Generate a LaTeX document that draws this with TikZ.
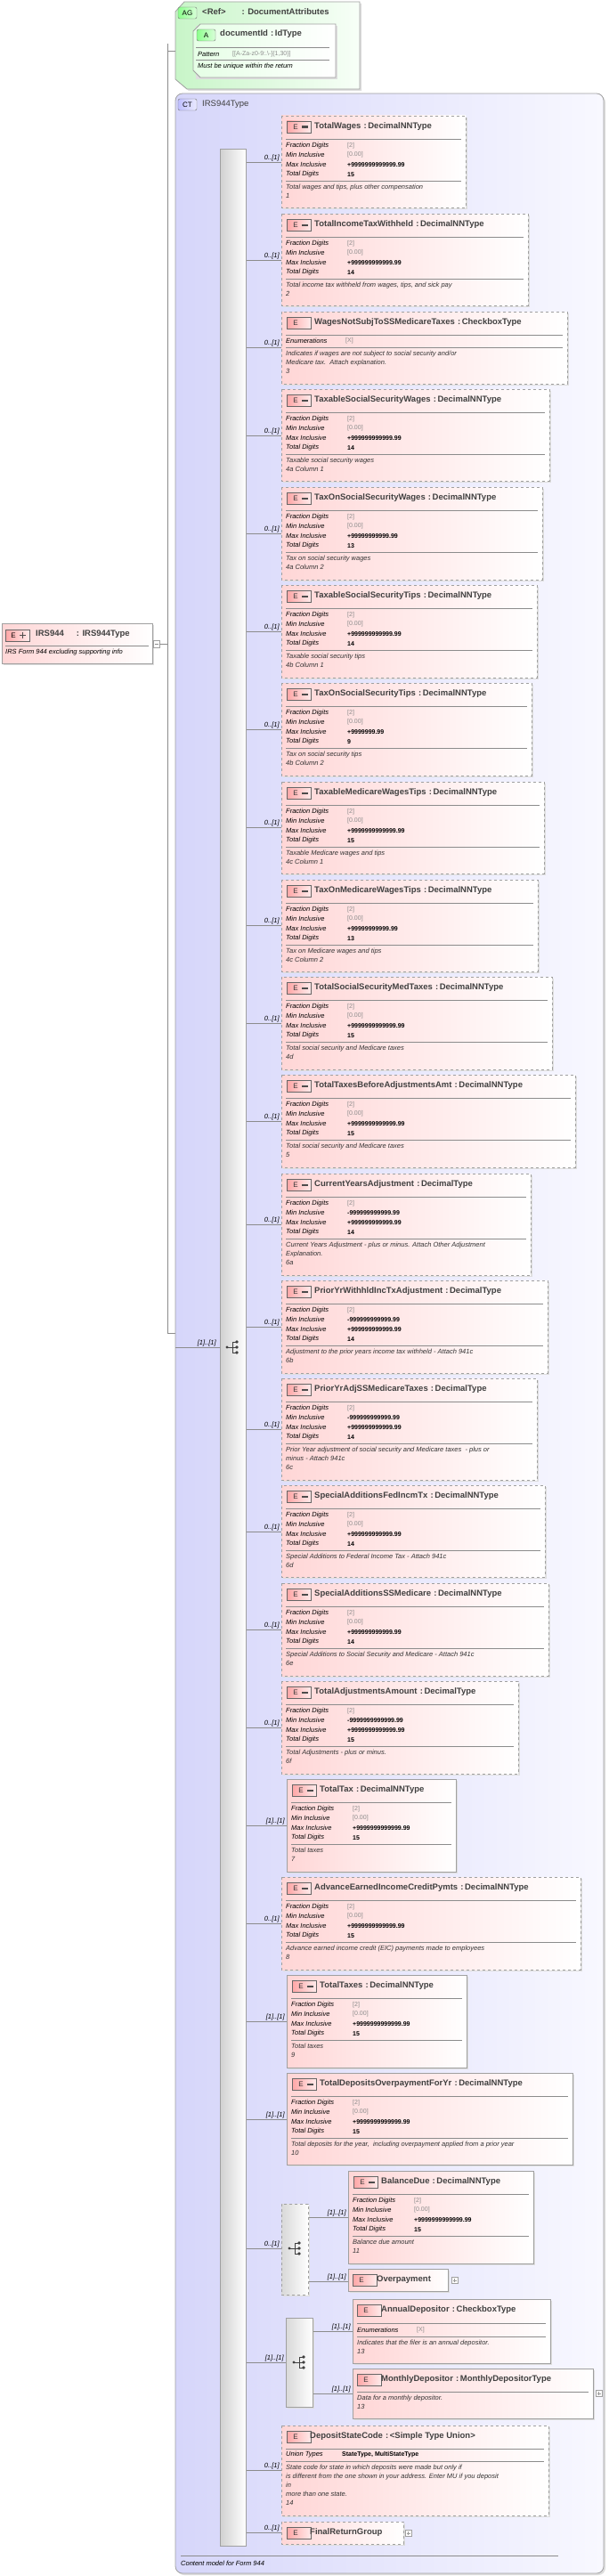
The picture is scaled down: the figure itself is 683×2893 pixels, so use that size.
\documentclass[tikz,border=0pt]{standalone}
\usepackage{fontspec}
\setmainfont{Liberation Sans}
\usetikzlibrary{calc}
\definecolor{pinkL}{RGB}{255,214,214}
\definecolor{ctL}{RGB}{214,214,250}
\definecolor{ctR}{RGB}{248,248,255}
\definecolor{agL}{RGB}{200,245,200}
\definecolor{bord}{RGB}{160,160,160}
\tikzset{
 elfill/.style={left color=pinkL,right color=white,draw=bord,line width=0.8pt},
 shd/.style={fill=black!13},
 ttl/.style={anchor=west,font=\bfseries\fontsize{9.5}{11}\selectfont,text=black!75,inner sep=0},
 pl/.style={anchor=west,font=\itshape\fontsize{7.5}{9}\selectfont,inner sep=0},
 pv/.style={anchor=west,font=\bfseries\fontsize{7}{9}\selectfont,inner sep=0},
 ds/.style={anchor=north west,align=left,font=\itshape\fontsize{7.5}{10}\selectfont,inner sep=0,text=black!80},
 lbl/.style={font=\itshape\fontsize{7.5}{9}\selectfont,inner sep=1pt,anchor=south east},
 sep/.style={draw=black!45,line width=0.6pt},
 conn/.style={draw=black!45,line width=0.7pt},
 iconst/.style={draw=black!60,left color=red!35,right color=red!8,line width=0.7pt},
}
\newcommand\gv[1]{\textcolor{black!45}{\mdseries #1}}
\newcommand\eicon[3]{%
 \draw[iconst] (#1,#2) rectangle ++(27,13);
 \node[font=\fontsize{8}{9}\selectfont,inner sep=0,text=black!80] at (#1+10,#2+7) {E};
 \ifnum#3=1 \fill[black!70] (#1+16.5,#2+5.5) rectangle ++(7,2.5);\fi}
\newcommand\nb[9]{%
 \fill[shd] (#1+2,#2+2) rectangle (#3+2,#4+2);
 \draw[elfill,#5] (#1,#2) rectangle (#3,#4);
 \eicon{#1+6}{#2+6}{1}
 \node[ttl] at (#1+37,#2+12) {#6};
 \draw[sep] (#1+5,#2+26) -- (#3-5,#2+26);
 \node[pl] at (#1+5,#2+34) {Fraction Digits}; \node[pv] at (#1+74,#2+34) {\gv{[2]}};
 \node[pl] at (#1+5,#2+44) {Min Inclusive}; \node[pv] at (#1+74,#2+44) {#7};
 \node[pl] at (#1+5,#2+55) {Max Inclusive}; \node[pv] at (#1+74,#2+55) {#8};
 \node[pl] at (#1+5,#2+66) {Total Digits}; \node[pv] at (#1+74,#2+66) {#9};
 \draw[sep] (#1+5,#2+73) -- (#3-5,#2+73);
 \node[ds] at (#1+5,#2+77) {\dtext};}
\newcommand\dtext{}
\newcommand\cn[4]{% from-node, y, target left x, label
 \coordinate (tmpT) at (#3,#2);
 \draw[conn] (#1 |- tmpT) -- (tmpT) node[lbl,pos=1,xshift=-1pt] {#4};}
\newcommand\seqicon[2]{%
 \fill[black!75] (#1-7,#2) circle (1.6);
 \draw[black!75,line width=0.8pt] (#1-7,#2) -- (#1-1,#2) (#1-1,#2-6) -- (#1-1,#2+6)
   (#1-1,#2-6) -- (#1+4,#2-6) (#1-1,#2) -- (#1+4,#2) (#1-1,#2+6) -- (#1+4,#2+6);
 \foreach \d in {-6,0,6} \fill[black!75] (#1+4,#2+\d) circle (1.8);}
\newcommand\expbox[2]{\draw[bord,fill=white] (#1,#2-3.5) rectangle ++(7,7); \draw[black!40] (#1+1.5,#2) -- ++(4,0) (#1+3.5,#2-2) -- ++(0,4);}
\begin{document}
\begin{tikzpicture}[x=1pt,y=-1pt]
\useasboundingbox (0,0) rectangle (683,2893);
\fill[white] (0,0) rectangle (683,2893);
% ---- AG
\fill[shd] (199,15) -- (209,4) -- (406,4) -- (406,102) -- (212,102) -- (199,91) -- cycle;
\draw[left color=agL,right color=green!3,draw=bord,line width=0.8pt] (197,13) -- (207,2) -- (404,2) -- (404,100) -- (210,100) -- (197,89) -- cycle;
\draw[left color=green!45,right color=green!15,draw=black!55,rounded corners=2pt] (200,8) rectangle (221,21);
\node[font=\fontsize{8}{9}\selectfont,inner sep=0] at (210.5,14.5) {AG};
\node[ttl] (ag) at (227,13) {<Ref>\hspace{18pt}: DocumentAttributes};
\fill[shd] (220,29) rectangle (379,89);
\draw[left color=green!10,right color=white,draw=bord,line width=0.8pt] (217,35) -- (225,27) -- (377,27) -- (377,87) -- (225,87) -- (217,79) -- cycle;
\draw[left color=green!45,right color=green!15,draw=black!55,rounded corners=2pt] (221,33) rectangle (242,46);
\node[font=\fontsize{8}{9}\selectfont,inner sep=0] at (231.5,39.5) {A};
\node[ttl] at (247,38) {documentId\,\,:\,IdType};
\draw[sep] (220,53) -- (370,53);
\node[pl] at (222,61) {Pattern}; \node[pv] at (261,61) {\gv{[[A-Za-z0-9:.\textbackslash-]\{1,30\}]}};
\draw[sep] (220,67) -- (370,67);
\node[pl] at (222,75) {Must be unique within the return};
% ---- root
\fill[shd] (4,702) rectangle (173,747);
\draw[elfill] (2,700) rectangle (171,745);
\draw[iconst] (6,707) rectangle ++(27,13);
\node[font=\fontsize{8}{9}\selectfont,inner sep=0] at (15,713.5) {E};
\draw[black!70,line width=1.3pt] (22,713.5) -- ++(7,0) (25.5,710) -- ++(0,7);
\node[ttl] (root) at (40,712) {IRS944\hspace{14pt}: IRS944Type};
\draw[sep] (6,725) -- (167,725);
\node[pl] at (6,733) {IRS Form 944 excluding supporting info};
\draw[bord,fill=white] (172,719) rectangle (179,727); \draw[black!45] (173.5,723) -- (177.5,723);
\draw[conn] (179,723) -- (188,723);
\draw[conn] (188,49) -- (188,1497);
\draw[conn] (188,57) -- (197,57);
\draw[conn] (188,1497) -- (197,1497);
% ---- CT
\fill[shd,rounded corners=8pt] (199,107) rectangle (680,2892);
\draw[left color=ctL,right color=ctR,draw=bord,line width=0.8pt,rounded corners=8pt] (197,105) rectangle (678,2890);
\draw[left color=blue!25,right color=blue!8,draw=black!55,rounded corners=2pt] (200,111) rectangle (221,124);
\node[font=\fontsize{8}{9}\selectfont,inner sep=0] at (210.5,117.5) {CT};
\node[ttl,font=\fontsize{9.5}{11}\selectfont] (ct) at (227,117) {IRS944Type};
\draw[sep] (203,2870) -- (627,2870);
\node[pl] at (203,2879) {Content model for Form 944};
% spine
\node[draw=bord,left color=black!18,right color=white,minimum width=29pt,minimum height=2692pt,inner sep=0,anchor=north west,line width=0.8pt] (spine) at (247,167) {};
\coordinate (ctl) at (197,1513);
\draw[conn] (ctl) -- (spine.west |- ctl) node[lbl,pos=1,xshift=-3pt] {[1]..[1]};
\seqicon{262}{1513}
% ---- elements
\renewcommand\dtext{Total wages and tips, plus other compensation\\1}
\nb{316}{130}{523}{233}{dashed}{TotalWages\,\,:\,DecimalNNType}{\gv{[0.00]}}{+9999999999999.99}{15}
\cn{spine.east}{182}{316}{0..[1]}
\renewcommand\dtext{Total income tax withheld from wages, tips, and sick pay\\2}
\nb{316}{240}{593}{343}{dashed}{TotalIncomeTaxWithheld\,\,:\,DecimalNNType}{\gv{[0.00]}}{+999999999999.99}{14}
\cn{spine.east}{292}{316}{0..[1]}
% 3 enum
\fill[shd] (318,352) rectangle (639,433);
\draw[elfill,dashed] (316,350) rectangle (637,431);
\eicon{322}{356}{0}
\node[ttl] at (353,362) {WagesNotSubjToSSMedicareTaxes\,\,:\,CheckboxType};
\draw[sep] (321,376) -- (632,376);
\node[pl] at (321,383) {Enumerations}; \node[pv] at (388,383) {\gv{[X]}};
\draw[sep] (321,390) -- (632,390);
\node[ds] at (321,394) {Indicates if wages are not subject to social security and/or\\Medicare tax.\ \ Attach explanation.\\3};
\cn{spine.east}{390}{316}{0..[1]}
\renewcommand\dtext{Taxable social security wages\\4a Column 1}
\nb{316}{437}{617}{540}{dashed}{TaxableSocialSecurityWages\,\,:\,DecimalNNType}{\gv{[0.00]}}{+999999999999.99}{14}
\cn{spine.east}{489}{316}{0..[1]}
\renewcommand\dtext{Tax on social security wages\\4a Column 2}
\nb{316}{547}{609}{651}{dashed}{TaxOnSocialSecurityWages\,\,:\,DecimalNNType}{\gv{[0.00]}}{+99999999999.99}{13}
\cn{spine.east}{599}{316}{0..[1]}
\renewcommand\dtext{Taxable social security tips\\4b Column 1}
\nb{316}{657}{603}{761}{dashed}{TaxableSocialSecurityTips\,\,:\,DecimalNNType}{\gv{[0.00]}}{+999999999999.99}{14}
\cn{spine.east}{709}{316}{0..[1]}
\renewcommand\dtext{Tax on social security tips\\4b Column 2}
\nb{316}{767}{597}{871}{dashed}{TaxOnSocialSecurityTips\,\,:\,DecimalNNType}{\gv{[0.00]}}{+9999999.99}{9}
\cn{spine.east}{819}{316}{0..[1]}
\renewcommand\dtext{Taxable Medicare wages and tips\\4c Column 1}
\nb{316}{878}{611}{981}{dashed}{TaxableMedicareWagesTips\,\,:\,DecimalNNType}{\gv{[0.00]}}{+9999999999999.99}{15}
\cn{spine.east}{929}{316}{0..[1]}
\renewcommand\dtext{Tax on Medicare wages and tips\\4c Column 2}
\nb{316}{988}{604}{1091}{dashed}{TaxOnMedicareWagesTips\,\,:\,DecimalNNType}{\gv{[0.00]}}{+99999999999.99}{13}
\cn{spine.east}{1039}{316}{0..[1]}
\renewcommand\dtext{Total social security and Medicare taxes\\4d}
\nb{316}{1097}{620}{1201}{dashed}{TotalSocialSecurityMedTaxes\,\,:\,DecimalNNType}{\gv{[0.00]}}{+9999999999999.99}{15}
\cn{spine.east}{1149}{316}{0..[1]}
\renewcommand\dtext{Total social security and Medicare taxes\\5}
\nb{316}{1207}{646}{1311}{dashed}{TotalTaxesBeforeAdjustmentsAmt\,\,:\,DecimalNNType}{\gv{[0.00]}}{+9999999999999.99}{15}
\cn{spine.east}{1259}{316}{0..[1]}
\renewcommand\dtext{Current Years Adjustment - plus or minus. Attach Other Adjustment\\Explanation.\\6a}
\nb{316}{1318}{596}{1432}{dashed}{CurrentYearsAdjustment\,\,:\,DecimalType}{-999999999999.99}{+999999999999.99}{14}
\cn{spine.east}{1375}{316}{0..[1]}
\renewcommand\dtext{Adjustment to the prior years income tax withheld - Attach 941c\\6b}
\nb{316}{1438}{615}{1542}{dashed}{PriorYrWithhldIncTxAdjustment\,\,:\,DecimalType}{-999999999999.99}{+999999999999.99}{14}
\cn{spine.east}{1490}{316}{0..[1]}
\renewcommand\dtext{Prior Year adjustment of social security and Medicare taxes\ \ - plus or\\minus - Attach 941c\\6c}
\nb{316}{1548}{603}{1662}{dashed}{PriorYrAdjSSMedicareTaxes\,\,:\,DecimalType}{-999999999999.99}{+999999999999.99}{14}
\cn{spine.east}{1605}{316}{0..[1]}
\renewcommand\dtext{Special Additions to Federal Income Tax - Attach 941c\\6d}
\nb{316}{1668}{612}{1771}{dashed}{SpecialAdditionsFedIncmTx\,\,:\,DecimalNNType}{\gv{[0.00]}}{+999999999999.99}{14}
\cn{spine.east}{1720}{316}{0..[1]}
\renewcommand\dtext{Special Additions to Social Security and Medicare - Attach 941c\\6e}
\nb{316}{1778}{616}{1882}{dashed}{SpecialAdditionsSSMedicare\,\,:\,DecimalNNType}{\gv{[0.00]}}{+999999999999.99}{14}
\cn{spine.east}{1830}{316}{0..[1]}
\renewcommand\dtext{Total Adjustments - plus or minus.\\6f}
\nb{316}{1888}{582}{1992}{dashed}{TotalAdjustmentsAmount\,\,:\,DecimalType}{-9999999999999.99}{+9999999999999.99}{15}
\cn{spine.east}{1940}{316}{0..[1]}
\renewcommand\dtext{Total taxes\\7}
\nb{322}{1998}{512}{2102}{solid}{TotalTax\,\,:\,DecimalNNType}{\gv{[0.00]}}{+9999999999999.99}{15}
\cn{spine.east}{2050}{322}{[1]..[1]}
\renewcommand\dtext{Advance earned income credit (EIC) payments made to employees\\8}
\nb{316}{2108}{652}{2212}{dashed}{AdvanceEarnedIncomeCreditPymts\,\,:\,DecimalNNType}{\gv{[0.00]}}{+9999999999999.99}{15}
\cn{spine.east}{2160}{316}{0..[1]}
\renewcommand\dtext{Total taxes\\9}
\nb{322}{2218}{524}{2322}{solid}{TotalTaxes\,\,:\,DecimalNNType}{\gv{[0.00]}}{+9999999999999.99}{15}
\cn{spine.east}{2270}{322}{[1]..[1]}
\renewcommand\dtext{Total deposits for the year,\ \ including overpayment applied from a prior year\\10}
\nb{322}{2328}{643}{2431}{solid}{TotalDepositsOverpaymentForYr\,\,:\,DecimalNNType}{\gv{[0.00]}}{+9999999999999.99}{15}
\cn{spine.east}{2380}{322}{[1]..[1]}
% choice 1
\fill[shd] (318,2477) rectangle (348,2579);
\node[draw=bord,dashed,left color=black!15,right color=white,minimum width=30pt,minimum height=102pt,inner sep=0,anchor=north west,line width=0.8pt] (ch1) at (316,2475) {};
\seqicon{332}{2525}
\cn{spine.east}{2525}{316}{0..[1]}
\renewcommand\dtext{Balance due amount\\11}
\nb{391}{2438}{599}{2542}{solid}{BalanceDue\,\,:\,DecimalNNType}{\gv{[0.00]}}{+9999999999999.99}{15}
\cn{ch1.east}{2490}{391}{[1]..[1]}
\fill[shd] (393,2550) rectangle (505,2575);
\draw[elfill] (391,2548) rectangle (503,2573);
\eicon{396}{2554}{0}
\node[ttl] at (423,2560) {Overpayment};
\expbox{507}{2561}
\cn{ch1.east}{2562}{391}{[1]..[1]}
% choice 2
\fill[shd] (323,2605) rectangle (353,2705);
\node[draw=bord,left color=black!15,right color=white,minimum width=30pt,minimum height=100pt,inner sep=0,anchor=north west,line width=0.8pt] (ch2) at (321,2603) {};
\seqicon{337}{2653}
\cn{spine.east}{2653}{321}{[1]..[1]}
\fill[shd] (398,2584) rectangle (620,2656);
\draw[elfill] (396,2582) rectangle (618,2654);
\eicon{401}{2588}{0}
\node[ttl] at (428,2594) {AnnualDepositor\,\,:\,CheckboxType};
\draw[sep] (401,2609) -- (613,2609);
\node[pl] at (401,2617) {Enumerations}; \node[pv] at (468,2617) {\gv{[X]}};
\draw[sep] (401,2624) -- (613,2624);
\node[ds] at (401,2628) {Indicates that the filer is an annual depositor.\\13};
\cn{ch2.east}{2618}{396}{[1]..[1]}
\fill[shd] (398,2662) rectangle (668,2718);
\draw[elfill] (396,2660) rectangle (666,2716);
\eicon{401}{2666}{0}
\node[ttl] at (428,2672) {MonthlyDepositor\,\,:\,MonthlyDepositorType};
\draw[sep] (401,2686) -- (661,2686);
\node[ds] at (401,2690) {Data for a monthly depositor.\\13};
\expbox{669}{2688}
\cn{ch2.east}{2688}{396}{[1]..[1]}
% DepositStateCode
\fill[shd] (318,2726) rectangle (618,2827);
\draw[elfill,dashed] (316,2724) rectangle (616,2825);
\eicon{322}{2730}{0}
\node[ttl] at (348,2736) {DepositStateCode\,\,:\,<Simple Type Union>};
\draw[sep] (321,2750) -- (611,2750);
\node[pl] at (321,2757) {Union Types}; \node[pv] at (384,2757) {StateType, MultiStateType};
\draw[sep] (321,2764) -- (611,2764);
\node[ds] at (321,2768) {State code for state in which deposits were made but only if\\is different from the one shown in your address. Enter MU if you deposit\\in\\more than one state.\\14};
\cn{spine.east}{2774}{316}{0..[1]}
% FinalReturnGroup
\fill[shd] (318,2834) rectangle (455,2859);
\draw[elfill,dashed] (316,2832) rectangle (453,2857);
\eicon{322}{2838}{0}
\node[ttl] at (348,2844) {FinalReturnGroup};
\expbox{455}{2845}
\cn{spine.east}{2844}{316}{0..[1]}
\end{tikzpicture}
\end{document}
